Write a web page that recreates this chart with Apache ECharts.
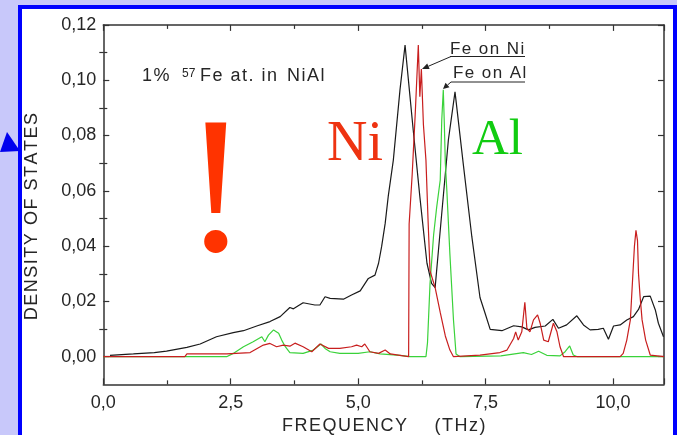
<!DOCTYPE html>
<html><head><meta charset="utf-8">
<script src="https://cdn.jsdelivr.net/npm/echarts@6/dist/echarts.min.js"></script>
<style>html,body{margin:0;padding:0;background:#c8c8fa;}#c{width:677px;height:435px;}</style>
</head><body><div id="c"></div>
<script>
// ---- data ----
const blackFreq = [0.13,0.59,1.0,1.24,1.64,1.90,2.22,2.55,2.75,3.01,3.27,3.47,3.66,3.73,3.92,4.15,4.25,4.35,4.45,4.71,4.87,5.04,5.20,5.33,5.40,5.46,5.53,5.59,5.69,5.82,5.92,6.08,6.21,6.35,6.44,6.51,6.64,6.77,6.90,7.06,7.23,7.39,7.49,7.59,7.82,8.05,8.21,8.34,8.47,8.67,8.82,8.93,9.09,9.29,9.42,9.55,9.71,9.81,9.91,10.01,10.14,10.27,10.40,10.50,10.60,10.73,10.83,10.89,10.99];
const blackDos = [0.0005,0.001,0.0015,0.002,0.0034,0.0046,0.0072,0.0087,0.0094,0.0111,0.0127,0.0145,0.0178,0.0173,0.0195,0.0187,0.0187,0.0217,0.0211,0.0208,0.0223,0.0238,0.0283,0.0295,0.0338,0.0398,0.0482,0.058,0.0711,0.0964,0.1127,0.082,0.0579,0.0338,0.0265,0.025,0.0519,0.0784,0.0958,0.07,0.0434,0.0214,0.0157,0.0099,0.0094,0.0112,0.0108,0.0097,0.0106,0.0111,0.0135,0.0103,0.0115,0.0148,0.0115,0.0097,0.0099,0.0103,0.0063,0.0111,0.0115,0.0133,0.0145,0.0171,0.0217,0.0219,0.0169,0.0121,0.0072];

const feNiFreq = [0,1.60,1.64,2.42,2.88,3.14,3.27,3.40,3.53,3.66,3.76,3.92,4.09,4.25,4.42,4.64,4.87,4.97,5.07,5.13,5.23,5.40,5.53,5.63,5.82,5.99,6.00,6.06,6.12,6.18,6.21,6.24,6.28,6.33,6.37,6.41,6.51,6.61,6.71,6.80,6.87,7.39,7.78,7.92,8.05,8.09,8.14,8.21,8.27,8.31,8.37,8.44,8.52,8.57,8.64,8.73,8.83,8.90,8.96,9.03,10.14,10.20,10.27,10.34,10.39,10.42,10.45,10.48,10.50,10.53,10.57,10.64,10.73,11.0];
const feNiDos = [0,0,0.001,0.001,0.0015,0.0042,0.0048,0.0036,0.0042,0.0038,0.0049,0.0036,0.0018,0.0046,0.003,0.003,0.0036,0.0042,0.0036,0.0046,0.0018,0.0012,0.0024,0.001,0.0005,0,0.048,0.066,0.088,0.1127,0.094,0.104,0.084,0.071,0.05,0.031,0.025,0.016,0.0075,0.0024,0,0.0006,0.0015,0.0024,0.0066,0.009,0.006,0.009,0.0197,0.0103,0.009,0.0133,0.0151,0.0121,0.006,0.0054,0.0121,0.009,0.0036,0,0,0.0012,0.006,0.0133,0.03,0.04,0.0457,0.042,0.03,0.022,0.0133,0.006,0.0006,0];

const feAlFreq = [0,2.42,2.55,2.75,2.94,3.11,3.17,3.24,3.34,3.44,3.50,3.57,3.66,3.92,4.12,4.27,4.35,4.45,4.64,5.00,5.23,5.43,5.82,6.01,6.33,6.36,6.41,6.48,6.54,6.61,6.64,6.67,6.69,6.71,6.74,6.80,6.87,6.92,7.00,7.80,8.24,8.40,8.54,8.70,8.96,9.06,9.15,9.22,9.30,11.0];
const feAlDos = [0,0,0.0012,0.0036,0.0054,0.0072,0.0054,0.0078,0.0097,0.0085,0.006,0.0036,0.0015,0.0012,0.0024,0.0046,0.003,0.0018,0.0012,0.0012,0.0018,0.001,0.0005,0,0,0.005,0.0265,0.044,0.054,0.0639,0.0856,0.0965,0.0844,0.07,0.06,0.037,0.0133,0.001,0,0.0003,0.0015,0.0008,0.002,0.0005,0.0003,0.0018,0.0039,0.0006,0,0];

const yMajorTicks = [0,0.02,0.04,0.06,0.08,0.10,0.12];
const yMinorTicks = [0.01,0.03,0.05,0.07,0.09,0.11];
const xName = 'FREQUENCY    (THz)';
const yName = 'DENSITY OF STATES';

// ---- helpers ----
const zip = (a, b) => a.map((v, i) => [v, b[i]]);
const sp = s => s.split('').join('\u200A');
const FONT = '"Liberation Sans", Arial, sans-serif';
const SERIF = '"Liberation Serif", "Times New Roman", serif';
const AXC = '#333';
const TXT = '#262626';

function arrow(x1, y1, x2, y2, len, half) {
  const dx = x2 - x1, dy = y2 - y1, d = Math.hypot(dx, dy);
  const ux = dx / d, uy = dy / d;
  const bx = x2 - ux * len, by = y2 - uy * len;
  return [
    { type: 'line', shape: { x1, y1, x2: bx, y2: by }, style: { stroke: '#222', lineWidth: 1 } },
    { type: 'polygon', shape: { points: [[x2, y2], [bx - uy * half, by + ux * half], [bx + uy * half, by - ux * half]] }, style: { fill: '#222' } }
  ];
}

const chart = echarts.init(document.getElementById('c'), null, { renderer: 'canvas' });

const baseX = {
  type: 'value', min: 0, max: 11, interval: 2.5,
  axisLine: { show: true, onZero: false, lineStyle: { color: AXC, width: 1.5 } },
  axisTick: { show: true, inside: true, length: 6, lineStyle: { color: AXC, width: 1.2 } },
  minorTick: { show: true, splitNumber: 2, length: 4, lineStyle: { color: AXC, width: 1.2 } },
  splitLine: { show: false }, minorSplitLine: { show: false }
};
const baseY = {
  type: 'value', min: -0.01, max: 0.12,
  axisLine: { show: true, onZero: false, lineStyle: { color: AXC, width: 1.5 } },
  axisTick: { show: true, inside: true, length: 6, customValues: yMajorTicks, lineStyle: { color: AXC, width: 1.2 } },
  splitLine: { show: false }
};
const minorY = {
  type: 'value', min: -0.01, max: 0.12,
  axisLine: { show: false },
  axisTick: { show: true, inside: true, length: 4, customValues: yMinorTicks, lineStyle: { color: AXC, width: 1.2 } },
  axisLabel: { show: false }, splitLine: { show: false }
};

const option = {
  animation: false,
  backgroundColor: '#c8c8fa',
  grid: { left: 103.3, right: 13, top: 24.9, bottom: 50.65, containLabel: false, outerBoundsMode: 'none' },
  xAxis: [
    Object.assign({}, baseX, {
      position: 'bottom',
      axisLabel: { show: true, showMaxLabel: false, margin: 10, fontSize: 18, color: TXT, fontFamily: FONT,
        formatter: v => v.toFixed(1).replace('.', ',') },
      name: sp(xName), nameLocation: 'middle', nameGap: 30,
      nameTextStyle: { fontSize: 18, color: TXT, fontFamily: FONT }
    }),
    Object.assign({}, baseX, { position: 'top', axisLabel: { show: false } })
  ],
  yAxis: [
    Object.assign({}, baseY, {
      position: 'left',
      axisLabel: { show: true, customValues: yMajorTicks, margin: 7, fontSize: 18, color: TXT, fontFamily: FONT,
        formatter: v => v.toFixed(2).replace('.', ',') },
      name: sp(yName), nameLocation: 'middle', nameGap: 62,
      nameTextStyle: { fontSize: 18, color: TXT, fontFamily: FONT, padding: [0, 24, 0, 0] }
    }),
    Object.assign({}, minorY, { position: 'left' }),
    Object.assign({}, baseY, { position: 'right', axisLabel: { show: false } }),
    Object.assign({}, minorY, { position: 'right' })
  ],
  series: [
    { name: 'total', type: 'line', data: zip(blackFreq, blackDos), showSymbol: false, symbol: 'none',
      lineStyle: { color: '#1a1a1a', width: 1.2 }, z: 3 },
    { name: 'Fe on Al', type: 'line', data: zip(feAlFreq, feAlDos), showSymbol: false, symbol: 'none',
      lineStyle: { color: '#3ad23a', width: 1.2 }, z: 4 },
    { name: 'Fe on Ni', type: 'line', data: zip(feNiFreq, feNiDos), showSymbol: false, symbol: 'none',
      lineStyle: { color: '#c81e1e', width: 1.2 }, z: 5 }
  ],
  graphic: [
    { type: 'rect', z: -10, shape: { x: 20, y: 7, width: 655, height: 440 },
      style: { fill: '#ffffff', stroke: '#0000ff', lineWidth: 4 } },
    { type: 'polygon', z: 10, shape: { points: [[0, 152], [7, 132], [20, 151]] }, style: { fill: '#0000ee' } },
    { type: 'text', z: 10, x: 142, y: 76, style: { text: sp('1%'), fontSize: 18, fontFamily: FONT, fill: TXT, verticalAlign: 'middle' } },
    { type: 'text', z: 10, x: 182, y: 73.5, style: { text: '57', fontSize: 12, fontFamily: FONT, fill: TXT, verticalAlign: 'middle' } },
    { type: 'text', z: 10, x: 200, y: 76, style: { text: sp('Fe at. in'), fontSize: 18, fontFamily: FONT, fill: TXT, verticalAlign: 'middle' } },
    { type: 'text', z: 10, x: 287, y: 76, style: { text: sp('NiAl'), fontSize: 18, fontFamily: FONT, fill: TXT, verticalAlign: 'middle' } },
    { type: 'text', z: 10, x: 216, y: 199, style: { text: '!', fontSize: 196, fontFamily: SERIF, fill: '#ff3300', align: 'center', verticalAlign: 'middle' } },
    { type: 'text', z: 10, x: 327, y: 145, style: { text: 'Ni', fontSize: 56, fontFamily: SERIF, fill: '#ee3311', verticalAlign: 'middle' } },
    { type: 'text', z: 10, x: 472, y: 141, style: { text: 'Al', fontSize: 51, fontFamily: SERIF, fill: '#11cc11', verticalAlign: 'middle' } },
    { type: 'text', z: 10, x: 450, y: 49, style: { text: sp('Fe on Ni'), fontSize: 17, fontFamily: FONT, fill: TXT, verticalAlign: 'middle' } },
    { type: 'line', z: 10, shape: { x1: 450, y1: 56.5, x2: 525, y2: 56.5 }, style: { stroke: '#222', lineWidth: 1 } },
    { type: 'text', z: 10, x: 453, y: 73, style: { text: sp('Fe on Al'), fontSize: 17, fontFamily: FONT, fill: TXT, verticalAlign: 'middle' } },
    { type: 'line', z: 10, shape: { x1: 451, y1: 82, x2: 525, y2: 82 }, style: { stroke: '#222', lineWidth: 1 } }
  ].concat(arrow(451, 56.5, 422, 69, 7, 3)).concat(arrow(451, 82, 443, 89, 6, 3)).map(g => Object.assign({ z: 10 }, g))
};
chart.setOption(option);
</script></body></html>
